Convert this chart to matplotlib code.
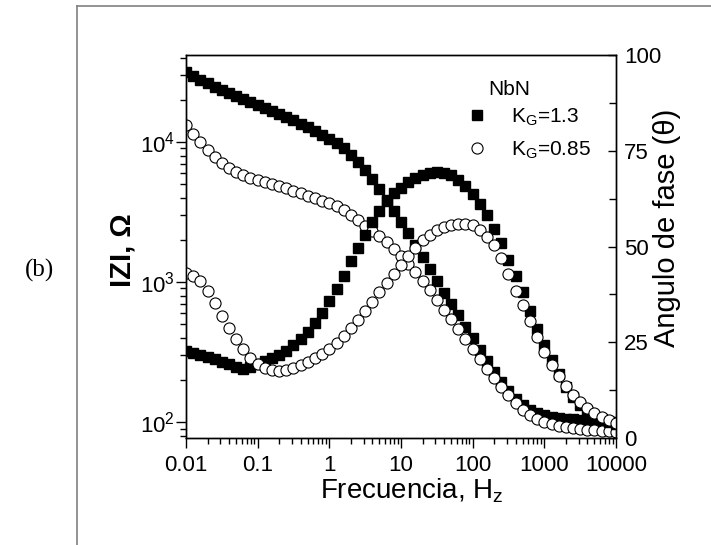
import matplotlib.pyplot as plt
from matplotlib.lines import Line2D
from matplotlib.ticker import FuncFormatter, LogLocator, MultipleLocator, NullFormatter

plt.rcParams['font.family'] = ['Liberation Sans', 'DejaVu Sans']
plt.rcParams['mathtext.default'] = 'regular'

# Frecuencia: 10 puntos por década (0.01 Hz - 10 kHz)
mantisa = [1.0, 1.26, 1.58, 2.0, 2.51, 3.16, 3.98, 5.01, 6.31, 7.94]
decadas = [0.01, 0.1, 1, 10, 100, 1000]
frec = [m * d for d in decadas for m in mantisa] + [10000]

# |Z| (ohm)
z_kg13 = [31600, 29600, 27700, 26400, 24700, 23500, 22400, 21300, 20300, 19300,
          18400, 17500, 16600, 15800, 15100, 14400, 13400, 12800, 12000, 11200,
          10500, 9840, 9060, 8070, 7200, 6310, 5440, 4620, 3850, 3220,
          2680, 2240, 1840, 1510, 1240, 1020, 834, 697, 581, 477,
          398, 327, 273, 228, 193, 166, 146, 132, 122, 116,
          112, 109, 107, 105, 105, 103, 103, 102, 102, 100, 100]
z_kg085 = [13200, 11400, 10000, 8770, 7810, 7080, 6520, 6110, 5810, 5530,
           5350, 5180, 5010, 4850, 4690, 4470, 4320, 4120, 3980, 3790,
           3670, 3490, 3270, 3010, 2770, 2510, 2310, 2130, 1930, 1720,
           1530, 1340, 1180, 1020, 877, 744, 631, 544, 462, 392,
           332, 282, 239, 206, 178, 156, 137, 122, 112, 105,
           100, 96.8, 93.6, 92.1, 90.6, 89.1, 87.7, 87.7, 86.3, 86.3, 84.9]

# Angulo de fase (grados)
fase_kg13 = [22.8, 22.3, 21.7, 21.2, 20.7, 19.9, 19.4, 18.6, 18.1, 18.6,
             19.4, 20.2, 20.9, 21.7, 22.8, 24.3, 25.9, 27.7, 30.1, 32.7,
             35.9, 39.0, 42.4, 46.1, 49.5, 52.9, 56.3, 59.2, 61.8, 63.9,
             65.4, 66.8, 67.8, 68.6, 69.1, 69.4, 69.1, 68.6, 67.3, 65.7,
             63.6, 61.0, 58.1, 54.7, 50.8, 46.6, 42.4, 38.0, 33.2, 28.5,
             24.3, 20.4, 16.8, 13.4, 10.7, 8.6, 7.1, 5.8, 5.0, 4.2, 3.7]
fase_kg085 = [43.2, 42.4, 41.1, 38.5, 35.3, 31.9, 28.8, 25.9, 23.3, 20.9,
              19.4, 18.3, 17.8, 17.5, 17.8, 18.3, 19.1, 19.9, 20.9, 22.0,
              23.3, 24.9, 26.7, 28.8, 30.9, 33.2, 35.6, 38.2, 40.6, 42.9,
              45.3, 47.4, 49.5, 51.6, 53.1, 54.2, 55.0, 55.5, 56.0, 56.0,
              55.5, 54.2, 52.6, 50.3, 46.9, 42.9, 38.5, 34.6, 30.6, 26.4,
              22.5, 19.1, 16.2, 13.6, 11.3, 9.4, 7.9, 6.5, 5.5, 4.7, 3.9]

fig = plt.figure(figsize=(7.11, 5.45), dpi=100)
ax = fig.add_axes([0.2616, 0.1963, 0.6048, 0.7028])

cuad = dict(marker='s', ls='none', color='black', ms=7.3)
circ = dict(marker='o', ls='none', mfc='white', mec='black', ms=8, mew=0.8)

ax.plot(frec, z_kg13, **cuad)
ax.plot(frec, z_kg085, **circ)
ax.set_xscale('log')
ax.set_yscale('log')
ax.set_xlim(0.01, 10000)
ax.set_ylim(77, 41800)

ax2 = ax.twinx()
l1, = ax2.plot(frec, fase_kg13, **cuad)
l2, = ax2.plot(frec, fase_kg085, **circ)
ax2.set_ylim(0, 100)
ax2.yaxis.set_major_locator(MultipleLocator(25))
ax2.yaxis.set_minor_locator(MultipleLocator(12.5))

# ejes y ticks
ax.xaxis.set_major_formatter(FuncFormatter(lambda v, p: f'{v:g}'))
ax.xaxis.set_minor_locator(LogLocator(base=10, subs=range(2, 10), numticks=20))
ax.xaxis.set_minor_formatter(NullFormatter())
ax.yaxis.set_minor_locator(LogLocator(base=10, subs=range(2, 10), numticks=20))
ax.yaxis.set_minor_formatter(NullFormatter())
ax.tick_params(which='major', direction='out', length=7, width=1, labelsize=16)
ax.tick_params(which='minor', direction='out', length=4, width=1)
ax.tick_params(axis='y', pad=1)
ax.tick_params(axis='x', pad=5)
ax2.tick_params(which='major', direction='in', length=6, width=1, labelsize=16, pad=6)
ax2.tick_params(which='minor', direction='in', length=5, width=1)
for a in (ax, ax2):
    for s in a.spines.values():
        s.set_linewidth(1)

ax.set_xlabel('Frecuencia, H$_z$', fontsize=20)
ax.xaxis.set_label_coords(0.525, -0.10)
ax.set_ylabel('IZI, Ω', fontsize=21, fontweight='bold')
ax.yaxis.set_label_coords(-0.116, 0.49)
ax2.set_ylabel('Angulo de fase (θ)', fontsize=21)
ax2.yaxis.set_label_coords(1.086, 0.548)

# leyenda
ax2.text(0.751, 0.911, 'NbN', transform=ax2.transAxes, fontsize=15,
         ha='center', va='center')
ax2.legend([l1, l2], ['K$_G$=1.3', 'K$_G$=0.85'], loc='upper left',
           bbox_to_anchor=(0.652, 0.865), frameon=False, fontsize=15,
           handlelength=1.0, handletextpad=1.15, borderpad=0,
           borderaxespad=0, labelspacing=0.55, numpoints=1)

# marco y etiqueta del panel
fig.text(40 / 711, 1 - 270 / 545, '(b)', ha='center', va='center',
         family=['Liberation Serif', 'DejaVu Serif'], fontsize=18)
fig.add_artist(Line2D([77 / 711, 77 / 711], [0, 1 - 6 / 545], color='#808080', lw=1.2))
fig.add_artist(Line2D([77 / 711, 1], [1 - 6 / 545, 1 - 6 / 545], color='#808080', lw=1.2))

fig.savefig('out.png', dpi=100)
